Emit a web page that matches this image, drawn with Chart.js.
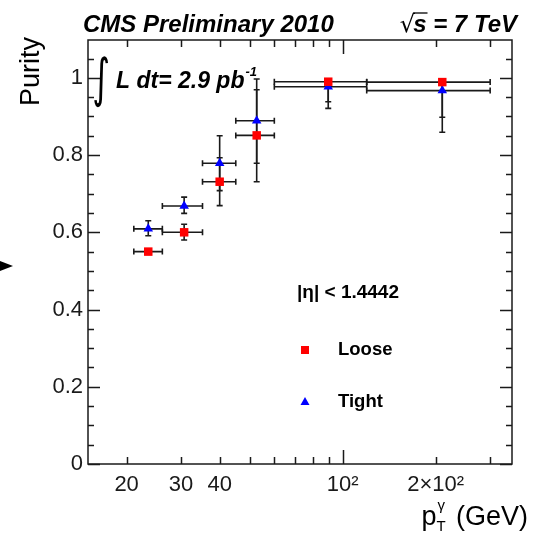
<!DOCTYPE html>
<html>
<head>
<meta charset="utf-8">
<script src="https://cdn.jsdelivr.net/npm/chart.js@4"></script>
<style>
  html, body { margin: 0; padding: 0; background: #fff; }
  #wrap { width: 540px; height: 533px; position: relative; }
</style>
</head>
<body>
<div id="wrap"><canvas id="purityChart"></canvas></div>
<script>
// photon pT bins (GeV)
const ptCenter = [23.5, 30.7, 40, 52.7, 89.8, 210];
const ptLow = [21.1, 26.1, 35.2, 45.1, 60.1, 119.6];
const ptHigh = [26.1, 35.2, 45.1, 60.1, 119.6, 300];

// purity, loose selection
const loosePurity = [0.550, 0.600, 0.731, 0.851, 0.990, 0.989];
const looseErrUp = [0.005, 0.021, 0.062, 0.118, 0.007, 0.008];
const looseErrDown = [0.005, 0.020, 0.062, 0.120, 0.052, 0.091];

// purity, tight selection
const tightPurity = [0.609, 0.668, 0.779, 0.889, 0.977, 0.967];
const tightErrUp = [0.021, 0.023, 0.071, 0.108, 0.020, 0.030];
const tightErrDown = [0.018, 0.019, 0.071, 0.110, 0.056, 0.108];

// axes
const xTickValues = [20, 30, 40, 100, 200];
const xTickLabels = ['20', '30', '40', '10²', '2×10²'];
const xMinorTicks = [20, 30, 40, 50, 60, 70, 80, 90, 200, 300];
const xMajorTicks = [100];
const yTickValues = [0, 0.2, 0.4, 0.6, 0.8, 1];
const yMinorTicks = [0.05, 0.1, 0.15, 0.25, 0.3, 0.35, 0.45, 0.5, 0.55, 0.65, 0.7, 0.75, 0.85, 0.9, 0.95, 1.05];

const ink = '#1a1a1a';

function toPoints(ys) {
  return ptCenter.map((x, i) => ({ x: x, y: ys[i] }));
}

const errors = [
  { up: looseErrUp, down: looseErrDown },
  { up: tightErrUp, down: tightErrDown }
];

// horizontal bin widths and vertical stat errors, drawn under the markers
const errorBars = {
  id: 'errorBars',
  beforeDatasetsDraw(chart) {
    const ctx = chart.ctx;
    const xs = chart.scales.x, ys = chart.scales.y;
    const cap = 3;
    ctx.save();
    ctx.strokeStyle = ink;
    ctx.lineWidth = 1.6;
    chart.data.datasets.forEach((ds, d) => {
      ds.data.forEach((p, i) => {
        const px = xs.getPixelForValue(p.x);
        const py = ys.getPixelForValue(p.y);
        const x0 = xs.getPixelForValue(ptLow[i]);
        const x1 = xs.getPixelForValue(ptHigh[i]);
        const yTop = ys.getPixelForValue(p.y + errors[d].up[i]);
        const yBot = ys.getPixelForValue(p.y - errors[d].down[i]);
        ctx.beginPath();
        ctx.moveTo(x0, py); ctx.lineTo(x1, py);
        ctx.moveTo(x0, py - cap); ctx.lineTo(x0, py + cap);
        ctx.moveTo(x1, py - cap); ctx.lineTo(x1, py + cap);
        ctx.moveTo(px, yTop); ctx.lineTo(px, yBot);
        ctx.moveTo(px - cap, yTop); ctx.lineTo(px + cap, yTop);
        ctx.moveTo(px - cap, yBot); ctx.lineTo(px + cap, yBot);
        ctx.stroke();
      });
    });
    ctx.restore();
  }
};

// frame with inward ticks on all four sides
const frameTicks = {
  id: 'frameTicks',
  afterDraw(chart) {
    const ctx = chart.ctx;
    const a = chart.chartArea;
    const xs = chart.scales.x, ys = chart.scales.y;
    ctx.save();
    ctx.strokeStyle = ink;
    ctx.lineWidth = 1.5;
    ctx.strokeRect(a.left, a.top, a.right - a.left, a.bottom - a.top);
    ctx.beginPath();
    const xTick = (v, len) => {
      const px = Math.round(xs.getPixelForValue(v)) + 0.5;
      ctx.moveTo(px, a.bottom); ctx.lineTo(px, a.bottom - len);
      ctx.moveTo(px, a.top); ctx.lineTo(px, a.top + len);
    };
    const yTick = (v, len) => {
      const py = Math.round(ys.getPixelForValue(v)) + 0.5;
      ctx.moveTo(a.left, py); ctx.lineTo(a.left + len, py);
      ctx.moveTo(a.right, py); ctx.lineTo(a.right - len, py);
    };
    xMinorTicks.forEach(v => xTick(v, 7));
    xMajorTicks.forEach(v => xTick(v, 14));
    yTickValues.forEach(v => yTick(v, 12));
    yMinorTicks.forEach(v => yTick(v, 6));
    ctx.stroke();
    ctx.restore();
  }
};

// titles, luminosity and legend
const annotations = {
  id: 'annotations',
  afterDraw(chart) {
    const ctx = chart.ctx;
    ctx.save();
    ctx.fillStyle = '#000';
    ctx.textBaseline = 'alphabetic';

    ctx.font = 'italic bold 24px "Liberation Sans", Arial, sans-serif';
    ctx.textAlign = 'left';
    ctx.fillText('CMS Preliminary 2010', 83, 32);

    // sqrt(s) = 7 TeV
    ctx.textAlign = 'right';
    const rest = ' = 7 TeV';
    ctx.fillText(rest, 517, 32);
    const restW = ctx.measureText(rest).width;
    const sW = ctx.measureText('s').width;
    const sX = 517 - restW - sW;
    ctx.textAlign = 'left';
    ctx.fillText('s', sX, 32);
    ctx.font = '24px "DejaVu Sans", sans-serif';
    ctx.textAlign = 'right';
    ctx.fillText('√', sX + 2, 32);
    ctx.lineWidth = 1.3;
    ctx.strokeStyle = '#000';
    ctx.beginPath();
    ctx.moveTo(sX, 13); ctx.lineTo(sX + sW + 1, 13);
    ctx.stroke();

    // integrated luminosity
    ctx.save();
    ctx.translate(101, 96);
    ctx.scale(1, 1.55);
    ctx.font = '34px "DejaVu Sans", sans-serif';
    ctx.textAlign = 'center';
    ctx.fillText('∫', 0, 0);
    ctx.restore();
    ctx.font = 'italic bold 23px "Liberation Sans", Arial, sans-serif';
    ctx.textAlign = 'left';
    ctx.fillText('L dt= 2.9 pb', 116, 88);
    const lw = ctx.measureText('L dt= 2.9 pb').width;
    ctx.font = 'italic bold 13px "Liberation Sans", Arial, sans-serif';
    ctx.fillText('-1', 116 + lw + 1, 76);

    // y axis title
    ctx.save();
    ctx.translate(39, 37);
    ctx.rotate(-Math.PI / 2);
    ctx.font = '27px "Liberation Sans", Arial, sans-serif';
    ctx.textAlign = 'right';
    ctx.fillText('Purity', 0, 0);
    ctx.restore();

    // x axis title: p_T^gamma (GeV)
    ctx.font = '27px "Liberation Sans", Arial, sans-serif';
    ctx.textAlign = 'right';
    const unit = ' (GeV)';
    ctx.fillText(unit, 528, 525);
    const uw = ctx.measureText(unit).width;
    ctx.font = '15px "Liberation Sans", Arial, sans-serif';
    ctx.textAlign = 'left';
    const scriptX = 528 - uw - 12;
    ctx.fillText('γ', scriptX + 1, 510);
    ctx.fillText('T', scriptX, 531);
    ctx.font = '27px "Liberation Sans", Arial, sans-serif';
    ctx.textAlign = 'right';
    ctx.fillText('p', scriptX, 525);

    // legend
    ctx.font = 'bold 19px "Liberation Sans", Arial, sans-serif';
    ctx.textAlign = 'left';
    ctx.textBaseline = 'middle';
    ctx.fillText('|η| < 1.4442', 297, 293);
    ctx.font = 'bold 18.5px "Liberation Sans", Arial, sans-serif';
    ctx.fillText('Loose', 338, 350);
    ctx.fillText('Tight', 338, 402);
    ctx.fillStyle = '#ff0000';
    ctx.fillRect(301, 346, 8, 8);
    ctx.fillStyle = '#0000ff';
    ctx.beginPath();
    ctx.moveTo(305, 397); ctx.lineTo(309.5, 405); ctx.lineTo(300.5, 405);
    ctx.closePath();
    ctx.fill();

    // marker on the left margin
    ctx.fillStyle = '#000';
    ctx.beginPath();
    ctx.moveTo(0, 261); ctx.lineTo(13, 266); ctx.lineTo(0, 271);
    ctx.closePath();
    ctx.fill();
    ctx.restore();
  }
};

const ctx = document.getElementById('purityChart').getContext('2d');
const purityChart = new Chart(ctx, {
  type: 'scatter',
  data: {
    datasets: [{
      label: 'Loose',
      data: toPoints(loosePurity),
      pointStyle: 'rect',
      pointRadius: 6,
      backgroundColor: '#ff0000',
      borderColor: '#ff0000',
      borderWidth: 0
    }, {
      label: 'Tight',
      data: toPoints(tightPurity),
      pointStyle: 'triangle',
      pointRadius: 5.5,
      backgroundColor: '#0000ff',
      borderColor: '#0000ff',
      borderWidth: 0
    }]
  },
  options: {
    responsive: true,
    maintainAspectRatio: false,
    animation: false,
    layout: { padding: { left: 0, right: 28, top: 40, bottom: 0 } },
    plugins: {
      legend: { display: false },
      tooltip: { enabled: false }
    },
    scales: {
      x: {
        type: 'logarithmic',
        min: 15,
        max: 353,
        grid: { display: false, drawTicks: false },
        border: { display: false },
        afterBuildTicks: (scale) => { scale.ticks = xTickValues.map(v => ({ value: v })); },
        afterFit: (scale) => { scale.height = 69; },
        ticks: {
          autoSkip: false,
          maxRotation: 0,
          padding: 8,
          color: ink,
          font: { family: '"Liberation Sans", Arial, sans-serif', size: 22 },
          callback: (val, i) => xTickLabels[i]
        }
      },
      y: {
        min: 0,
        max: 1.098,
        grid: { display: false, drawTicks: false },
        border: { display: false },
        afterBuildTicks: (scale) => { scale.ticks = yTickValues.map(v => ({ value: v })); },
        afterFit: (scale) => { scale.width = 88; },
        ticks: {
          padding: 5,
          color: ink,
          font: { family: '"Liberation Sans", Arial, sans-serif', size: 22 },
          callback: (val) => (val === 0 || val === 1) ? String(val) : val.toFixed(1)
        }
      }
    }
  },
  plugins: [errorBars, frameTicks, annotations]
});
</script>
</body>
</html>
